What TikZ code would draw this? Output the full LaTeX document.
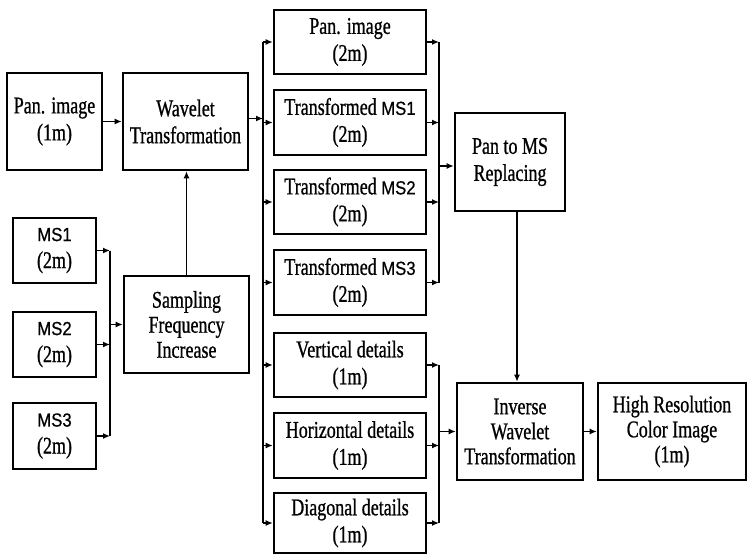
\documentclass[tikz,border=0pt]{standalone}
\usepackage{fontspec}
\setmainfont{Liberation Serif}[FakeStretch=0.75,FakeBold=0.8]
\newfontfamily\msf{Liberation Sans}[FakeStretch=0.88,FakeBold=0.6]
\usetikzlibrary{arrows.meta}
\newcommand{\MSx}[1]{{\msf\fontsize{19pt}{27pt}\selectfont MS#1}}
\tikzset{
  box/.style={draw, line width=2.6pt, rectangle, align=center, inner sep=0pt,
    font=\fontsize{24pt}{27pt}\selectfont},
  tri/.style={box, font=\fontsize{24pt}{25pt}\selectfont},
  link/.style={line width=1.3pt},
  arr/.style={link, -{Latex[length=7pt,width=6pt]}}
}
\begin{document}
\begin{tikzpicture}[x=1pt,y=-1pt]
\useasboundingbox (0,0) rectangle (747,554);
% left
\node[box, minimum width=95, minimum height=97] (pan1) at (54.5,121.5) {Pan. image\\(1m)};
\node[box, minimum width=125, minimum height=97] (wav) at (185.5,121.5) {Wavelet\\Transformation};
\node[box, minimum width=83, minimum height=65] (ms1) at (54.5,250.5) {\MSx{1}\\(2m)};
\node[box, minimum width=83, minimum height=65] (ms2) at (54.5,344.5) {\MSx{2}\\(2m)};
\node[box, minimum width=83, minimum height=66] (ms3) at (54.5,436) {\MSx{3}\\(2m)};
\node[tri, minimum width=125, minimum height=97] (samp) at (186.5,324.5) {Sampling\\Frequency\\Increase};
% column
\node[box, minimum width=152, minimum height=64] (pan2) at (350,42) {Pan. image\\(2m)};
\node[box, minimum width=152, minimum height=65] (tms1) at (350,122.5) {Transformed \MSx{1}\\(2m)};
\node[box, minimum width=152, minimum height=64] (tms2) at (350,202) {Transformed \MSx{2}\\(2m)};
\node[box, minimum width=152, minimum height=65] (tms3) at (350,282.5) {Transformed \MSx{3}\\(2m)};
\node[box, minimum width=152, minimum height=64] (vd) at (350,365) {Vertical details\\(1m)};
\node[box, minimum width=152, minimum height=65] (hd) at (350,445.5) {Horizontal details\\(1m)};
\node[box, minimum width=152, minimum height=60] (dd) at (350,523) {Diagonal details\\(1m)};
% right
\node[box, minimum width=110, minimum height=98] (pms) at (510,162) {Pan to MS\\Replacing};
\node[tri, minimum width=126, minimum height=97] (inv) at (520,431.5) {Inverse\\Wavelet\\Transformation};
\node[tri, minimum width=148, minimum height=97] (hr) at (672,431.5) {High Resolution\\Color Image\\(1m)};
% bus coordinates
\coordinate (b1t) at (110,250.5);
\coordinate (b1b) at (110,436);
\coordinate (b1m) at (110,324.5);
\coordinate (b2t) at (263,42);
\coordinate (b2b) at (263,523);
\coordinate (b3t) at (439,42);
\coordinate (b3b) at (439,282.5);
\coordinate (b3m) at (439,166);
\coordinate (b4t) at (439,365);
\coordinate (b4b) at (439,523);
\coordinate (b4m) at (439,431.5);
% connectors
\draw[arr] (pan1) -- (wav);
\draw[arr] (samp.north) -- (samp.north |- wav.south);
\draw[link] (b1t) -- (b1b);
\draw[arr] (ms1.east) -- (b1t);
\draw[arr] (ms2.east) -- (ms2.east -| b1t);
\draw[arr] (ms3.east) -- (b1b);
\draw[arr] (b1m) -- (samp.west);
\draw[arr] ([yshift=3pt]wav.east) -- ([yshift=3pt]wav.east -| b2t);
\draw[link] (b2t) -- (b2b);
\foreach \n in {pan2,tms1,tms2,tms3,vd,hd,dd}
  \draw[arr] (\n.west -| b2t) -- (\n.west);
\draw[link] (b3t) -- (b3b);
\foreach \n in {pan2,tms1,tms2,tms3}
  \draw[arr] (\n.east) -- (\n.east -| b3t);
\draw[arr] (b3m) -- (b3m -| pms.west);
\draw[link] (b4t) -- (b4b);
\foreach \n in {vd,hd,dd}
  \draw[arr] (\n.east) -- (\n.east -| b4t);
\draw[arr] (b4m) -- (inv.west);
\draw[arr] ([xshift=7pt]pms.south) -- ([xshift=7pt]pms.south |- inv.north);
\draw[arr] (inv) -- (hr);
\end{tikzpicture}
\end{document}
